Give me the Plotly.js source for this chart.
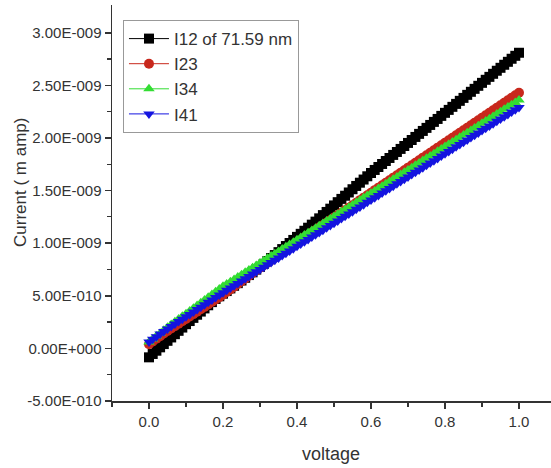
<!DOCTYPE html>
<html>
<head>
<meta charset="utf-8">
<script src="https://cdn.plot.ly/plotly-3.0.1.min.js"></script>
<style>html,body{margin:0;padding:0;background:#fff}#chart{width:551px;height:468px}</style>
</head>
<body>
<div id="chart"></div>
<script>
var voltage = [0.00,0.01,0.02,0.03,0.04,0.05,0.06,0.07,0.08,0.09,
0.10,0.11,0.12,0.13,0.14,0.15,0.16,0.17,0.18,0.19,
0.20,0.21,0.22,0.23,0.24,0.25,0.26,0.27,0.28,0.29,
0.30,0.31,0.32,0.33,0.34,0.35,0.36,0.37,0.38,0.39,
0.40,0.41,0.42,0.43,0.44,0.45,0.46,0.47,0.48,0.49,
0.50,0.51,0.52,0.53,0.54,0.55,0.56,0.57,0.58,0.59,
0.60,0.61,0.62,0.63,0.64,0.65,0.66,0.67,0.68,0.69,
0.70,0.71,0.72,0.73,0.74,0.75,0.76,0.77,0.78,0.79,
0.80,0.81,0.82,0.83,0.84,0.85,0.86,0.87,0.88,0.89,
0.90,0.91,0.92,0.93,0.94,0.95,0.96,0.97,0.98,0.99,1.00];

var I12 = [-0.85e-10,-0.53e-10,-0.22e-10,0.10e-10,0.41e-10,0.72e-10,1.04e-10,1.35e-10,1.67e-10,1.98e-10,
2.30e-10,2.60e-10,2.90e-10,3.20e-10,3.50e-10,3.80e-10,4.10e-10,4.40e-10,4.70e-10,4.95e-10,
5.20e-10,5.45e-10,5.70e-10,5.95e-10,6.20e-10,6.45e-10,6.71e-10,6.97e-10,7.23e-10,7.49e-10,
7.75e-10,8.03e-10,8.31e-10,8.59e-10,8.87e-10,9.15e-10,9.44e-10,9.73e-10,10.02e-10,10.31e-10,
10.60e-10,10.89e-10,11.18e-10,11.47e-10,11.76e-10,12.05e-10,12.36e-10,12.67e-10,12.97e-10,13.28e-10,
13.59e-10,13.90e-10,14.21e-10,14.51e-10,14.82e-10,15.13e-10,15.44e-10,15.75e-10,16.05e-10,16.36e-10,
16.67e-10,16.96e-10,17.24e-10,17.53e-10,17.81e-10,18.10e-10,18.39e-10,18.67e-10,18.96e-10,19.24e-10,
19.53e-10,19.81e-10,20.10e-10,20.39e-10,20.67e-10,20.96e-10,21.24e-10,21.53e-10,21.81e-10,22.10e-10,
22.39e-10,22.67e-10,22.96e-10,23.24e-10,23.53e-10,23.81e-10,24.10e-10,24.39e-10,24.67e-10,24.96e-10,
25.24e-10,25.53e-10,25.81e-10,26.10e-10,26.39e-10,26.67e-10,26.96e-10,27.24e-10,27.53e-10,27.81e-10,28.10e-10];

var I23 = [0.40e-10,0.66e-10,0.91e-10,1.16e-10,1.41e-10,1.65e-10,1.89e-10,2.12e-10,2.35e-10,2.58e-10,
2.80e-10,3.03e-10,3.26e-10,3.49e-10,3.72e-10,3.95e-10,4.18e-10,4.41e-10,4.64e-10,4.87e-10,
5.10e-10,5.36e-10,5.61e-10,5.87e-10,6.12e-10,6.38e-10,6.64e-10,6.90e-10,7.16e-10,7.42e-10,
7.68e-10,7.91e-10,8.15e-10,8.39e-10,8.63e-10,8.86e-10,9.10e-10,9.34e-10,9.58e-10,9.81e-10,
10.05e-10,10.29e-10,10.53e-10,10.76e-10,11.00e-10,11.24e-10,11.48e-10,11.71e-10,11.95e-10,12.19e-10,
12.43e-10,12.66e-10,12.90e-10,13.14e-10,13.38e-10,13.61e-10,13.85e-10,14.09e-10,14.33e-10,14.56e-10,
14.80e-10,15.04e-10,15.28e-10,15.51e-10,15.75e-10,15.99e-10,16.23e-10,16.46e-10,16.70e-10,16.94e-10,
17.18e-10,17.41e-10,17.65e-10,17.89e-10,18.13e-10,18.36e-10,18.60e-10,18.84e-10,19.08e-10,19.31e-10,
19.55e-10,19.79e-10,20.03e-10,20.26e-10,20.50e-10,20.74e-10,20.98e-10,21.21e-10,21.45e-10,21.69e-10,
21.93e-10,22.16e-10,22.40e-10,22.64e-10,22.88e-10,23.11e-10,23.35e-10,23.59e-10,23.83e-10,24.06e-10,24.30e-10];

var I34 = [0.60e-10,0.89e-10,1.17e-10,1.45e-10,1.73e-10,2.00e-10,2.27e-10,2.53e-10,2.79e-10,3.05e-10,
3.30e-10,3.56e-10,3.82e-10,4.08e-10,4.34e-10,4.60e-10,4.86e-10,5.12e-10,5.38e-10,5.64e-10,
5.90e-10,6.12e-10,6.34e-10,6.56e-10,6.79e-10,7.01e-10,7.23e-10,7.45e-10,7.67e-10,7.89e-10,
8.11e-10,8.33e-10,8.56e-10,8.78e-10,9.00e-10,9.22e-10,9.44e-10,9.66e-10,9.88e-10,10.10e-10,
10.33e-10,10.55e-10,10.77e-10,10.99e-10,11.21e-10,11.43e-10,11.65e-10,11.87e-10,12.10e-10,12.32e-10,
12.54e-10,12.76e-10,12.98e-10,13.20e-10,13.42e-10,13.64e-10,13.87e-10,14.09e-10,14.31e-10,14.53e-10,
14.75e-10,14.97e-10,15.19e-10,15.41e-10,15.64e-10,15.86e-10,16.08e-10,16.30e-10,16.52e-10,16.74e-10,
16.96e-10,17.18e-10,17.41e-10,17.63e-10,17.85e-10,18.07e-10,18.29e-10,18.51e-10,18.73e-10,18.95e-10,
19.18e-10,19.40e-10,19.62e-10,19.84e-10,20.06e-10,20.28e-10,20.50e-10,20.72e-10,20.95e-10,21.17e-10,
21.39e-10,21.61e-10,21.83e-10,22.05e-10,22.27e-10,22.49e-10,22.72e-10,22.94e-10,23.16e-10,23.38e-10,23.60e-10];

var I41 = [0.60e-10,0.86e-10,1.11e-10,1.36e-10,1.61e-10,1.85e-10,2.09e-10,2.32e-10,2.55e-10,2.78e-10,
3.00e-10,3.23e-10,3.46e-10,3.69e-10,3.92e-10,4.15e-10,4.38e-10,4.61e-10,4.84e-10,5.07e-10,
5.30e-10,5.52e-10,5.74e-10,5.96e-10,6.18e-10,6.40e-10,6.62e-10,6.84e-10,7.06e-10,7.28e-10,
7.50e-10,7.72e-10,7.94e-10,8.16e-10,8.38e-10,8.60e-10,8.82e-10,9.04e-10,9.26e-10,9.48e-10,
9.70e-10,9.92e-10,10.14e-10,10.36e-10,10.58e-10,10.80e-10,11.02e-10,11.24e-10,11.46e-10,11.68e-10,
11.90e-10,12.12e-10,12.34e-10,12.56e-10,12.78e-10,13.00e-10,13.22e-10,13.44e-10,13.66e-10,13.88e-10,
14.10e-10,14.32e-10,14.54e-10,14.76e-10,14.98e-10,15.20e-10,15.42e-10,15.64e-10,15.86e-10,16.08e-10,
16.30e-10,16.52e-10,16.74e-10,16.96e-10,17.18e-10,17.40e-10,17.62e-10,17.84e-10,18.06e-10,18.28e-10,
18.50e-10,18.72e-10,18.94e-10,19.16e-10,19.38e-10,19.60e-10,19.82e-10,20.04e-10,20.26e-10,20.48e-10,
20.70e-10,20.92e-10,21.14e-10,21.36e-10,21.58e-10,21.80e-10,22.02e-10,22.24e-10,22.46e-10,22.68e-10,22.90e-10];

var seriesNames = ['I12 of 71.59 nm','I23','I34','I41'];
var yTickVals = [-5e-10,0,5e-10,10e-10,15e-10,20e-10,25e-10,30e-10];
var yTickText = ['-5.00E-010','0.00E+000','5.00E-010','1.00E-009','1.50E-009','2.00E-009','2.50E-009','3.00E-009'];
var yMinorVals = [-2.5e-10,2.5e-10,7.5e-10,12.5e-10,17.5e-10,22.5e-10,27.5e-10];
var xTickVals = [0,0.2,0.4,0.6,0.8,1.0];
var xTickText = ['0.0','0.2','0.4','0.6','0.8','1.0'];

var styles = [
  {color:'#000000', symbol:'square'},
  {color:'#c8281c', symbol:'circle'},
  {color:'#33dd33', symbol:'triangle-up'},
  {color:'#1414e0', symbol:'triangle-down'}
];
var ys = [I12, I23, I34, I41];

var data = ys.map(function(y, i){
  return {
    x: voltage, y: y, name: seriesNames[i], type: 'scatter', mode: 'lines+markers',
    line: {color: styles[i].color, width: 1},
    marker: {color: styles[i].color, symbol: styles[i].symbol, size: 10, line: {width: 0}},
    cliponaxis: false
  };
});

var font = 'Liberation Sans, Arial, sans-serif';
var layout = {
  width: 551, height: 468,
  margin: {l: 112, r: 0, t: 5, b: 67},
  paper_bgcolor: '#fff', plot_bgcolor: '#fff',
  showlegend: true,
  font: {family: font, color: '#333'},
  xaxis: {
    range: [-0.1, 1.0865], showgrid: false, zeroline: false,
    showline: true, linecolor: '#333', linewidth: 1.5,
    tickmode: 'array', tickvals: xTickVals, ticktext: xTickText,
    ticks: 'outside', ticklen: 6, tickwidth: 1.5, tickcolor: '#333',
    tickfont: {family: font, size: 15, color: '#333'},
    minor: {dtick: 0.1, tick0: 0, ticks: 'outside', ticklen: 4, tickwidth: 1.2, tickcolor: '#333'}
  },
  yaxis: {
    range: [-5e-10, 3.264e-9], showgrid: false, zeroline: false,
    showline: true, linecolor: '#333', linewidth: 1.5,
    tickmode: 'array', tickvals: yTickVals, ticktext: yTickText,
    ticks: 'outside', ticklen: 6, tickwidth: 1.5, tickcolor: '#333',
    tickfont: {family: font, size: 15, color: '#333'},
    minor: {tickmode: 'array', tickvals: yMinorVals, ticks: 'outside', ticklen: 4, tickwidth: 1.2, tickcolor: '#333'}
  },
  legend: {
    x: 0.025, y: 0.962, xanchor: 'left', yanchor: 'top',
    bgcolor: '#fff', bordercolor: '#999', borderwidth: 1,
    font: {family: font, size: 17, color: '#333'},
    itemwidth: 40, traceorder: 'normal'
  },
  annotations: [
    {text: 'Current ( m amp)', xref: 'paper', yref: 'paper', x: -0.2096, y: 0.553,
     xanchor: 'center', yanchor: 'middle', textangle: -90, showarrow: false,
     font: {family: font, size: 17, color: '#333'}},
    {text: 'voltage', xref: 'paper', yref: 'paper', x: 0.499, y: -0.134,
     xanchor: 'center', yanchor: 'middle', showarrow: false,
     font: {family: font, size: 18, color: '#333'}}
  ]
};

Plotly.newPlot('chart', data, layout, {displayModeBar: false, staticPlot: true});
</script>
</body>
</html>
